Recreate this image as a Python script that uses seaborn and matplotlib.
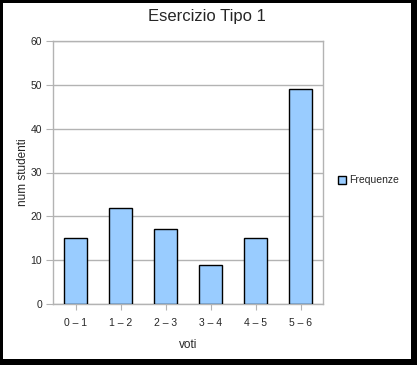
import matplotlib
matplotlib.use("Agg")
import matplotlib.pyplot as plt
import seaborn as sns
from matplotlib.patches import Rectangle

categories = ["0 – 1", "1 – 2", "2 – 3", "3 – 4", "4 – 5", "5 – 6"]
frequenze = [15, 22, 17, 9, 15, 49]
yticks = [0, 10, 20, 30, 40, 50, 60]

sns.set_style("white")
plt.rcParams["font.family"] = ["Liberation Sans", "DejaVu Sans"]

fig = plt.figure(figsize=(4.17, 3.65), dpi=100)
fig.patch.set_facecolor("black")
# white panel inside a black frame (thicker on right/bottom like a shadow)
fig.patches.append(Rectangle((3 / 417, 6 / 365), 408 / 417, 356 / 365,
                             transform=fig.transFigure, facecolor="white",
                             edgecolor="none", zorder=0))

ax = fig.add_axes([53 / 417, 1 - 304 / 365, 270 / 417, 263 / 365])
ax.set_zorder(1)

sns.barplot(x=categories, y=frequenze, color="#99ccff", edgecolor="black",
            linewidth=1, width=0.53, saturation=1, ax=ax, label="Frequenze",
            zorder=3)

ax.set_ylim(0, 60)
ax.set_xlim(-0.5, 5.5)
ax.set_yticks(yticks)
ax.yaxis.grid(True, color="#b3b3b3", linewidth=1, zorder=0)
ax.set_axisbelow(True)
for s in ax.spines.values():
    s.set_color("#b3b3b3")
    s.set_linewidth(1)
ax.tick_params(axis="y", direction="out", length=5, color="#b3b3b3",
               labelsize=7.5, pad=3, left=True)
ax.tick_params(axis="x", direction="out", length=4, color="#b3b3b3",
               labelsize=7.5, pad=6, bottom=True)

fig.text(0.497, 1 - 17 / 365, "Esercizio Tipo 1", fontsize=12,
         ha="center", va="center")
ax.set_xlabel("voti", fontsize=8.5, labelpad=8)
ax.set_ylabel("num studenti", fontsize=8.5, labelpad=1)

ax.legend(loc="center left", bbox_to_anchor=(1.02, 0.47), frameon=False,
          fontsize=7.5, handlelength=0.8, handleheight=0.8, handletextpad=0.3)

fig.savefig("out.png", dpi=100, facecolor=fig.get_facecolor())
